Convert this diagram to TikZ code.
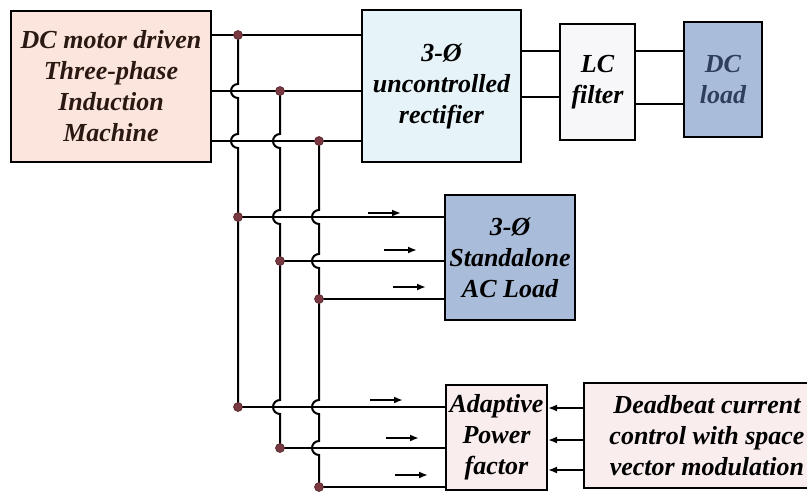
\documentclass[tikz,border=0pt]{standalone}
\usepackage{fontspec}
\setmainfont{Liberation Serif}
\usetikzlibrary{arrows.meta}
\definecolor{motorfill}{HTML}{FCE5DD}
\definecolor{rectfill}{HTML}{E6F3F8}
\definecolor{filterfill}{HTML}{F7F7F9}
\definecolor{loadfill}{HTML}{A9BDDA}
\definecolor{ctrlfill}{HTML}{F9EDED}
\definecolor{brownink}{HTML}{2A1812}
\definecolor{loadink}{HTML}{2E3F5E}
\definecolor{tap}{HTML}{7A3840}
\tikzset{blk/.style={draw=black,line width=2pt,inner sep=0pt,align=center,
  font=\fontsize{26}{31}\selectfont\bfseries\itshape},
wire/.style={line width=2pt},
flow/.style={-{Latex[length=9pt,width=7pt]},line width=2pt},
dot/.style={fill=tap,draw=tap!70!black,line width=.6pt}}
\begin{document}
\begin{tikzpicture}[x=1pt,y=-1pt]
\useasboundingbox (0,0) rectangle (807,491);
\node[blk,fill=motorfill,text=brownink,minimum width=200,minimum height=151] (motor) at (111,86.5)
  {DC motor driven\\Three-phase\\Induction\\Machine};
\node[blk,fill=rectfill,minimum width=159,minimum height=152] (rect) at (441.5,86)
  {3-Ø\\uncontrolled\\rectifier};
\node[blk,fill=filterfill,minimum width=75,minimum height=116] (lc) at (597.5,82) {LC\\filter};
\node[blk,fill=loadfill,text=loadink,minimum width=78,minimum height=115] (dcload) at (723,79.5) {DC\\load};
\node[blk,fill=loadfill,minimum width=130,minimum height=125] (acload) at (510,257.5)
  {3-Ø\\Standalone\\AC Load};
\node[blk,fill=ctrlfill,minimum width=101,minimum height=105] (apf) at (496.5,437.5)
  {Adaptive\\Power\\factor};
\node[blk,fill=ctrlfill,minimum width=246,minimum height=105] (db) at (707,435.5)
  {Deadbeat current\\control with space\\vector modulation};
\foreach \y in {35,91,141}
  \draw[wire] (motor.east|-0,\y) -- (rect.west|-0,\y);
\draw[wire] (rect.east|-0,51) -- (lc.west|-0,51);
\draw[wire] (rect.east|-0,97) -- (lc.west|-0,97);
\draw[wire] (lc.east|-0,51) -- (dcload.west|-0,51);
\draw[wire] (lc.east|-0,104) -- (dcload.west|-0,104);
\foreach \x/\ya/\yb/\hops in {238/35/407/{91,141},280/91/448/{141,217,407},319/141/487/{217,261,407,448}}
  \draw[wire] (\x,\ya) \foreach \h in \hops {-- (\x,\h-7) arc[start angle=-90,end angle=-270,radius=7]} -- (\x,\yb);
\foreach \x/\y/\n in {238/217/a,280/261/b,319/299/c}{
  \coordinate (ac\n) at (\x,\y);
  \draw[wire] (ac\n) -- (acload.west|-ac\n);
}
\foreach \x/\y/\n in {238/407/a,280/448/b,319/487/c}{
  \coordinate (pf\n) at (\x,\y);
  \draw[wire] (pf\n) -- (apf.west|-pf\n);
}
\foreach \x/\y in {238/35,280/91,319/141,238/217,280/261,319/299,238/407,280/448,319/487}
  \draw[dot] (\x,\y) circle (4.5);
\foreach \x/\y in {368/213,384/250,393/287,370/400,386/438,395/475}
  \draw[flow] (\x,\y) -- ++(33,0);
\foreach \y in {408,440,470}
  \draw[flow] (db.west|-0,\y) -- (apf.east|-0,\y);
\end{tikzpicture}
\end{document}
